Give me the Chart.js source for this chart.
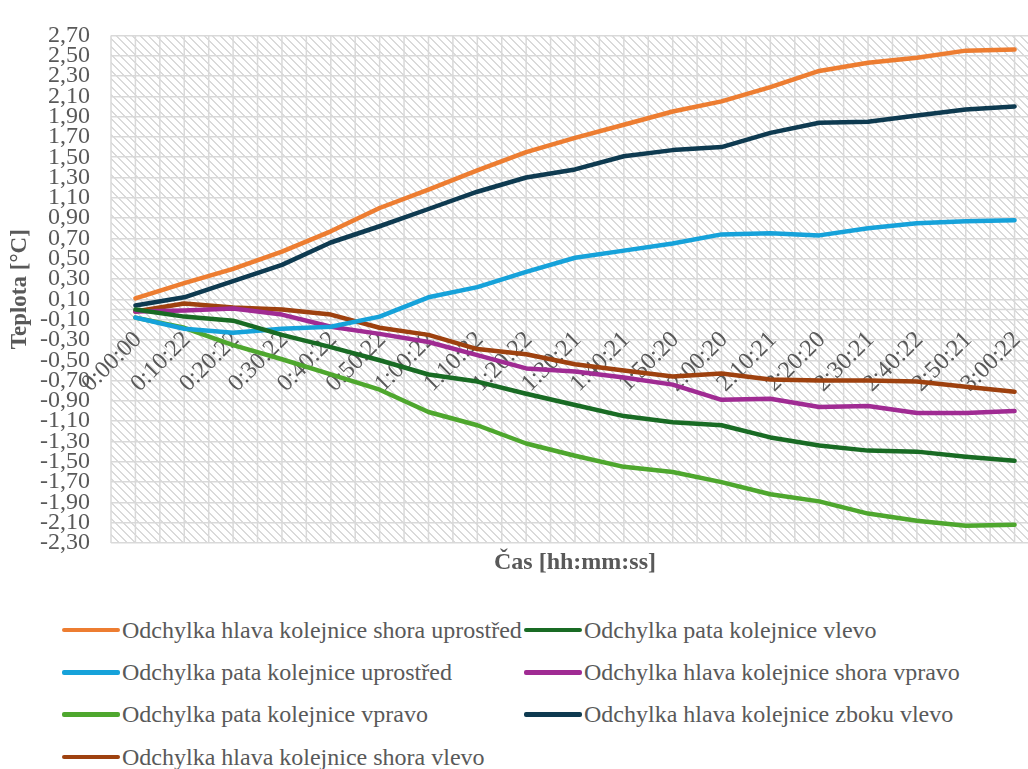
<!DOCTYPE html>
<html>
<head>
<meta charset="utf-8">
<script src="https://cdn.jsdelivr.net/npm/chart.js@4.4.0/dist/chart.umd.min.js"></script>
<style>
html, body { margin: 0; padding: 0; background: #fff; overflow: hidden; width: 1028px; height: 769px; }
#wrap { position: absolute; left: 0; top: 0; width: 1050px; height: 590px; }
#legend { position: absolute; left: 62px; top: 609px; display: grid; grid-template-columns: 462px 480px;
  font-family: "Liberation Serif", "Tinos", "DejaVu Serif", serif; font-size: 24px; color: #595959; }
.item { display: flex; align-items: center; height: 42.3px; white-space: nowrap; }
.swatch { width: 58px; height: 4.5px; border-radius: 2px; margin-right: 2px; }
</style>
</head>
<body>
<div id="wrap"><canvas id="graf" width="1050" height="590"></canvas></div>
<div id="legend"></div>
<script>
// casy mereni
const casy = ["0:00:00", "0:10:22", "0:20:22", "0:30:22", "0:40:22", "0:50:22", "1:00:22", "1:10:22", "1:20:22",
    "1:30:21", "1:40:21", "1:50:20", "2:00:20", "2:10:21", "2:20:20", "2:30:21", "2:40:22", "2:50:21", "3:00:22"];

const hlava_shora_uprostred = [0.11, 0.26, 0.40, 0.57, 0.77, 1.00, 1.18, 1.37, 1.55, 1.69, 1.82, 1.95, 2.05, 2.19, 2.35, 2.43, 2.48, 2.55, 2.56];
const pata_vlevo = [0.00, -0.07, -0.11, -0.25, -0.37, -0.50, -0.64, -0.71, -0.83, -0.94, -1.05, -1.11, -1.14, -1.26, -1.34, -1.39, -1.40, -1.45, -1.49];
const pata_uprostred = [-0.08, -0.19, -0.23, -0.19, -0.17, -0.07, 0.12, 0.22, 0.37, 0.51, 0.58, 0.65, 0.74, 0.75, 0.73, 0.80, 0.85, 0.87, 0.88];
const hlava_shora_vpravo = [-0.02, -0.01, 0.01, -0.05, -0.17, -0.24, -0.32, -0.45, -0.58, -0.61, -0.67, -0.74, -0.89, -0.88, -0.96, -0.95, -1.02, -1.02, -1.00];
const pata_vpravo = [-0.08, -0.18, -0.35, -0.49, -0.64, -0.79, -1.01, -1.14, -1.32, -1.44, -1.55, -1.60, -1.70, -1.82, -1.89, -2.01, -2.08, -2.13, -2.12];
const hlava_zboku_vlevo = [0.04, 0.12, 0.28, 0.44, 0.66, 0.82, 0.99, 1.16, 1.30, 1.38, 1.51, 1.57, 1.60, 1.74, 1.84, 1.85, 1.91, 1.97, 2.00];
const hlava_shora_vlevo = [-0.02, 0.06, 0.02, 0.00, -0.05, -0.18, -0.25, -0.39, -0.44, -0.54, -0.60, -0.66, -0.63, -0.69, -0.70, -0.70, -0.71, -0.76, -0.81];

const y_ticks = [2.7, 2.5, 2.3, 2.1, 1.9, 1.7, 1.5, 1.3, 1.1, 0.9, 0.7, 0.5, 0.3, 0.1,
    -0.1, -0.3, -0.5, -0.7, -0.9, -1.1, -1.3, -1.5, -1.7, -1.9, -2.1, -2.3];

const nazvy = [
    "Odchylka hlava kolejnice shora uprostřed",
    "Odchylka pata kolejnice vlevo",
    "Odchylka pata kolejnice uprostřed",
    "Odchylka hlava kolejnice shora vpravo",
    "Odchylka pata kolejnice vpravo",
    "Odchylka hlava kolejnice zboku vlevo",
    "Odchylka hlava kolejnice shora vlevo"
];
const barvy = ["#ED7D31", "#196B24", "#16A2DA", "#A02B93", "#4EA72E", "#0E3A50", "#9E410F"];
const serie = [hlava_shora_uprostred, pata_vlevo, pata_uprostred, hlava_shora_vpravo, pata_vpravo, hlava_zboku_vlevo, hlava_shora_vlevo];

const font_name = "'Liberation Serif', Tinos, 'DejaVu Serif', serif";
const text_color = "#595959";
const grid_color = "#d9d9d9";

function makeHatch()
{
    const c = document.createElement("canvas");
    c.width = 8;
    c.height = 8;
    const g = c.getContext("2d");
    g.fillStyle = "#ffffff";
    g.fillRect(0, 0, 8, 8);
    g.fillStyle = "#dadada";
    for(let i = 0; i < 8; i++)
    {
        g.fillRect(i, i, 1, 1);
        g.fillRect((i + 1) % 8, i, 1, 1);
    }
    return c;
}

const pozadi = {
    id: "pozadi",
    beforeDraw(chart) {
        const a = chart.chartArea;
        const ctx = chart.ctx;
        ctx.save();
        ctx.fillStyle = ctx.createPattern(makeHatch(), "repeat");
        ctx.fillRect(a.left, a.top, a.right - a.left, a.bottom - a.top);
        ctx.restore();
    },
    beforeDatasetsDraw(chart) {
        const a = chart.chartArea;
        const ctx = chart.ctx;
        const xs = chart.scales.x;
        const ys = chart.scales.y;
        const half = (xs.getPixelForValue(1) - xs.getPixelForValue(0)) / 2;
        ctx.save();
        ctx.strokeStyle = grid_color;
        ctx.lineWidth = 1.5;
        ctx.beginPath();
        for(let i = 0; i < casy.length; i++)
        {
            const x = xs.getPixelForValue(i);
            ctx.moveTo(x - half, a.top); ctx.lineTo(x - half, a.bottom);
            ctx.moveTo(x, a.top); ctx.lineTo(x, a.bottom);
        }
        const x0 = ys.getPixelForValue(0);
        ctx.moveTo(a.left, x0); ctx.lineTo(a.right, x0);
        ctx.stroke();

        // popisky casu, otocene o 45 stupnu u nuly
        ctx.fillStyle = text_color;
        ctx.font = "24px " + font_name;
        ctx.textAlign = "right";
        ctx.textBaseline = "alphabetic";
        for(let i = 0; i < casy.length; i++)
        {
            ctx.save();
            ctx.translate(xs.getPixelForValue(i) + 7, x0 + 31);
            ctx.rotate(-Math.PI / 4);
            ctx.fillText(casy[i], 0, 0);
            ctx.restore();
        }
        ctx.restore();
    }
};

const datasets = serie.map((d, i) => ({
    label: nazvy[i],
    data: d,
    borderColor: barvy[i],
    backgroundColor: barvy[i],
    borderWidth: 4.5,
    pointRadius: 0,
    tension: 0,
    borderCapStyle: "round",
    borderJoinStyle: "round",
    fill: false
}));

const graf = new Chart(document.getElementById("graf"), {
    type: "line",
    data: { labels: casy, datasets: datasets },
    plugins: [pozadi],
    options: {
        responsive: false,
        animation: false,
        layout: { padding: { left: 0, right: 11, top: 20, bottom: 0 } },
        plugins: { legend: { display: false }, tooltip: { enabled: false } },
        scales: {
            x: {
                type: "category",
                offset: true,
                grid: { display: false, drawTicks: false },
                border: { display: false },
                ticks: { display: false },
                title: { display: true, text: "Čas [hh:mm:ss]", color: text_color,
                    font: { family: font_name, size: 24, weight: "bold" }, padding: { top: 5, bottom: 13 } },
                afterFit: function(s) { s.height = 47; }
            },
            y: {
                min: -2.3,
                max: 2.7,
                afterBuildTicks: function(s) { s.ticks = y_ticks.map(v => ({ value: v })); },
                afterFit: function(s) { s.width = 111; },
                ticks: {
                    autoSkip: false,
                    padding: 21,
                    color: text_color,
                    font: { family: font_name, size: 24 },
                    callback: v => v.toFixed(2).replace(".", ",")
                },
                grid: { color: grid_color, lineWidth: 1.5, drawTicks: false },
                border: { display: false },
                title: { display: true, text: "Teplota [°C]", color: text_color,
                    font: { family: font_name, size: 23, weight: "bold" }, padding: { top: 6, bottom: 0 } }
            }
        }
    }
});

// legenda ve dvou sloupcich
const leg = document.getElementById("legend");
nazvy.forEach((n, i) => {
    const it = document.createElement("div");
    it.className = "item";
    const sw = document.createElement("span");
    sw.className = "swatch";
    sw.style.background = barvy[i];
    const tx = document.createElement("span");
    tx.textContent = n;
    it.appendChild(sw);
    it.appendChild(tx);
    leg.appendChild(it);
});
</script>
</body>
</html>
